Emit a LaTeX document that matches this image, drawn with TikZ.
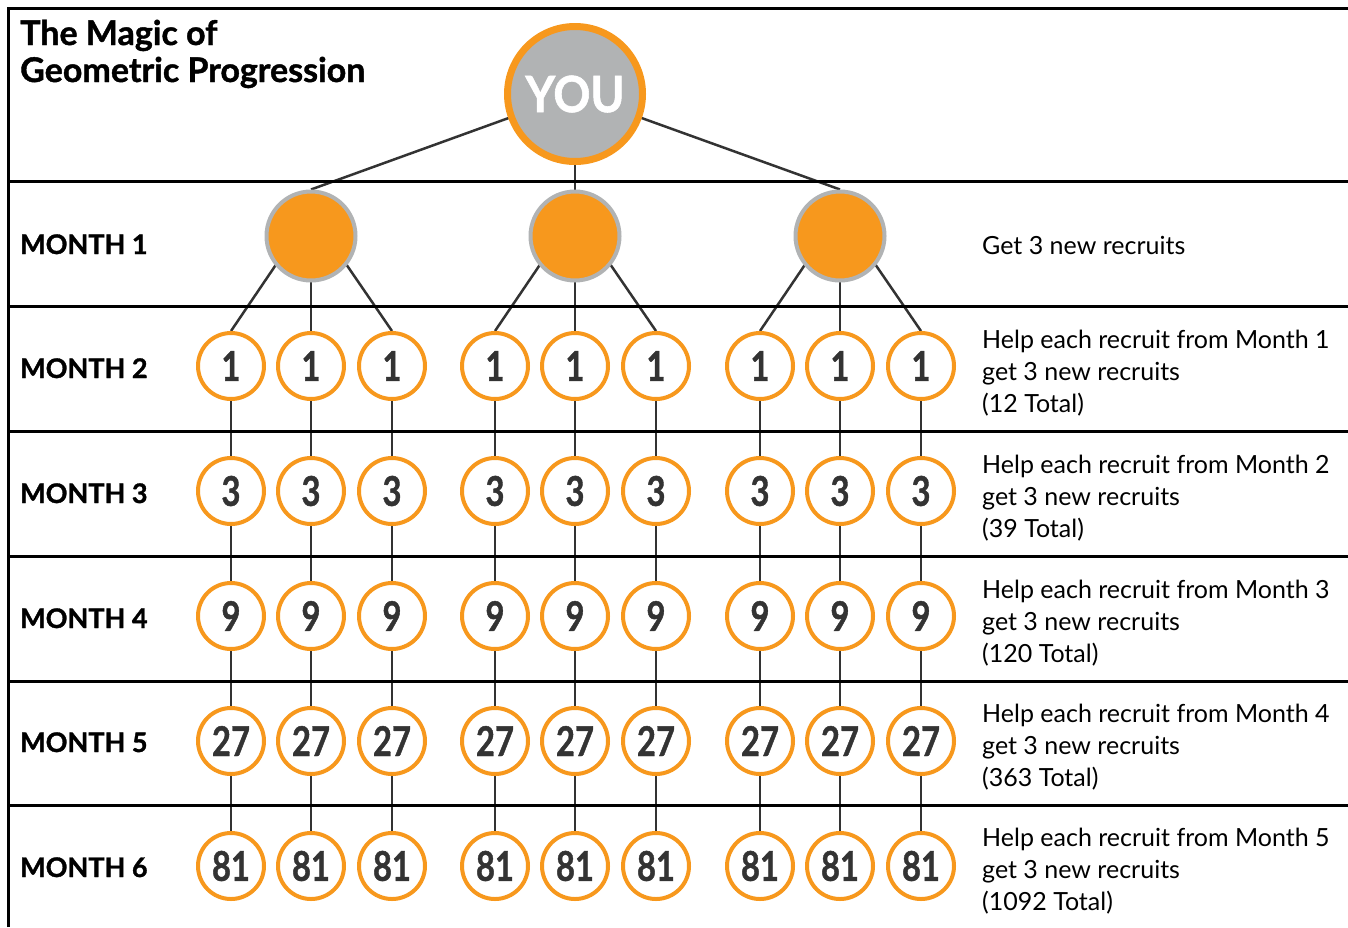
\documentclass[tikz,border=0pt]{standalone}
\usepackage{fontspec}
\setmainfont{Lato}
\newfontfamily\heavyfont[BoldFeatures={FakeBold=1.2}]{Lato}
\usetikzlibrary{backgrounds,calc}
\definecolor{org}{HTML}{F7981D}
\definecolor{gry}{HTML}{B1B3B4}
\definecolor{ink}{HTML}{333333}
\tikzset{
  frame/.style={draw=black, line width=3pt},
  conn/.style={draw=ink, line width=2.5pt},
  you/.style={circle, draw=org, fill=gry, line width=7pt, minimum size=135pt, inner sep=0pt,
    text=white, font=\fontsize{50}{50}\heavyfont\bfseries},
  monecirc/.style={circle, draw=gry, fill=org, line width=4pt, minimum size=89pt, inner sep=0pt},
  numcirc/.style={circle, draw=org, fill=white, line width=4pt, minimum size=66pt, inner sep=0pt,
    text=ink, font=\fontsize{41}{41}\heavyfont\bfseries},
  monthlabel/.style={anchor=base west, inner sep=0pt, font=\fontsize{27}{27}\heavyfont\bfseries},
  desc/.style={anchor=base west, inner sep=0pt, align=left, font=\fontsize{25}{32}\selectfont},
  titletext/.style={anchor=base west, inner sep=0pt, align=left, font=\fontsize{34}{37}\heavyfont\bfseries}
}
\begin{document}
\begin{tikzpicture}[x=1pt,y=-1pt]
\useasboundingbox (0,0) rectangle (1348,927);
% frame
\draw[frame] (8,927) -- (8,8) -- (1348,8);
\foreach \y in {181,306,431,556,681,805} \draw[frame] (8,\y) -- (1348,\y);
% title
\node[titletext] (title) at (20,82) {The Magic of\\Geometric Progression};
% top node
\node[you] (you) at (575,94) {\scalebox{0.92}[1]{YOU}};
% month 1
\foreach \g/\x in {a/311,b/575,c/840} \node[monecirc] (m1\g) at (\x,236) {};
% number rows
\foreach \r/\y/\v in {2/366/1,3/491/3,4/616/9,5/741/27,6/866/81}{
  \foreach \c/\x in {1/231,2/311,3/392,4/495,5/575,6/656,7/760,8/840,9/921}{
    \node[numcirc] (n\r-\c) at (\x,\y) {\scalebox{0.8}[1]{\v}};
  }
}
% connectors
\begin{scope}[on background layer]
  \foreach \g in {a,b,c} \draw[conn] (you.center) -- (m1\g.north);
  \foreach \g/\a/\b/\cc in {a/1/2/3,b/4/5/6,c/7/8/9}{
    \draw[conn] ($(m1\g.center)+(0,-23)$) -- (n2-\a.north);
    \draw[conn] (m1\g.center) -- (n2-\b.north);
    \draw[conn] ($(m1\g.center)+(0,-23)$) -- (n2-\cc.north);
  }
  \foreach \r/\s in {2/3,3/4,4/5,5/6}{
    \foreach \c in {1,...,9} \draw[conn] (n\r-\c.center) -- (n\s-\c.center);
  }
\end{scope}
% month labels
\node[monthlabel] (l1) at (20,254) {MONTH 1};
\node[monthlabel] (l2) at (20,378) {MONTH 2};
\node[monthlabel] (l3) at (20,503) {MONTH 3};
\node[monthlabel] (l4) at (20,628) {MONTH 4};
\node[monthlabel] (l5) at (20,752) {MONTH 5};
\node[monthlabel] (l6) at (20,877) {MONTH 6};
% descriptions
\node[desc] (d1) at (982,254) {Get 3 new recruits};
\node[desc] (d2) at (982,412) {Help each recruit from Month 1\\get 3 new recruits\\(12 Total)};
\node[desc] (d3) at (982,537) {Help each recruit from Month 2\\get 3 new recruits\\(39 Total)};
\node[desc] (d4) at (982,662) {Help each recruit from Month 3\\get 3 new recruits\\(120 Total)};
\node[desc] (d5) at (982,786) {Help each recruit from Month 4\\get 3 new recruits\\(363 Total)};
\node[desc] (d6) at (982,910) {Help each recruit from Month 5\\get 3 new recruits\\(1092 Total)};
\end{tikzpicture}
\end{document}
